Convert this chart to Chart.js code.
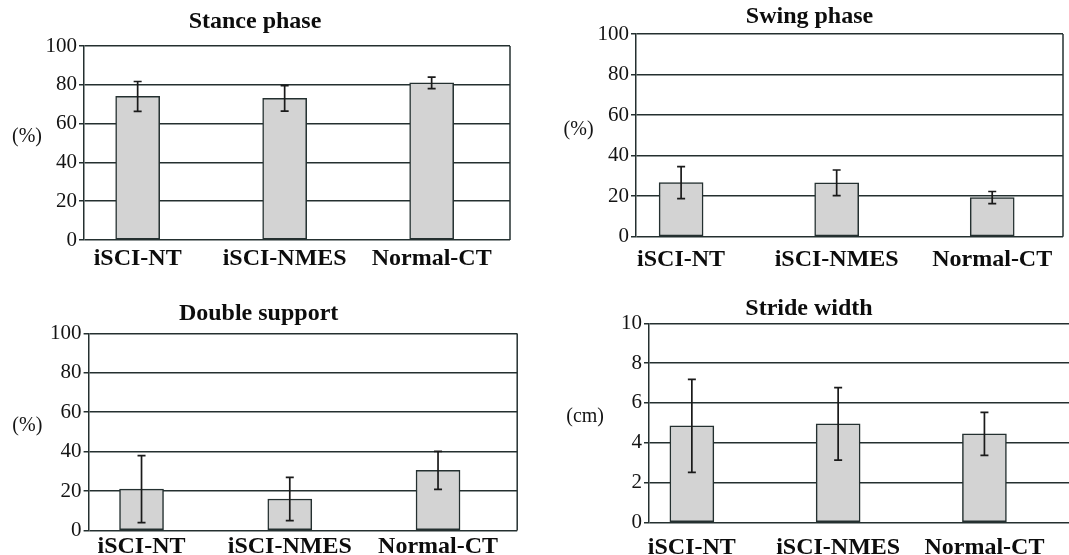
<!DOCTYPE html>
<html>
<head>
<meta charset="utf-8">
<script src="https://cdn.jsdelivr.net/npm/chart.js@4.4.1/dist/chart.umd.min.js"></script>
<style>
  html, body { margin: 0; padding: 0; background: #fff; overflow: hidden; width: 1069px; height: 555px; }
  .panel { position: absolute; }
  .panel canvas { display: block; }
</style>
</head>
<body>
<div class="panel" id="p1" style="left:0px;top:0px;width:520px;height:280px"><canvas id="c1"></canvas></div>
<div class="panel" id="p2" style="left:556px;top:0px;width:512px;height:280px"><canvas id="c2"></canvas></div>
<div class="panel" id="p3" style="left:0px;top:280px;width:520px;height:275px"><canvas id="c3"></canvas></div>
<div class="panel" id="p4" style="left:542px;top:280px;width:534px;height:275px"><canvas id="c4"></canvas></div>
<script>
// Gait parameters per group: mean and standard deviation
const categories = ['iSCI-NT', 'iSCI-NMES', 'Normal-CT'];

const stanceMean = [74, 73, 81];
const stanceSd   = [7.7, 6.6, 3];

const swingMean  = [26.7, 26.6, 19.3];
const swingSd    = [7.9, 6.3, 3];

const doubleMean = [21, 16, 30.5];
const doubleSd   = [17, 11, 9.6];

const strideMean = [4.85, 4.95, 4.45];
const strideSd   = [2.33, 1.82, 1.08];

const percentTicks = [0, 20, 40, 60, 80, 100];
const cmTicks      = [0, 2, 4, 6, 8, 10];

const FONT = "'Liberation Serif', 'Times New Roman', serif";
const LINE = '#243030';
const TEXT = '#141414';
const BAR_FILL = '#d3d3d3';

Chart.defaults.font.family = FONT;

// Layout of each panel (canvas-relative sizes)
const panels = [
  { canvas: 'c1', title: 'Stance phase', mean: stanceMean, sd: stanceSd, ticks: percentTicks, unit: '(%)',
    yWidth: 84, padRight: 10, xHeight: 40, titlePad: { top: 7.6, bottom: 9.6 }, labelPad: 4.4,
    xMin: -0.365, xMax: 2.533, unitGap: 42, frameRight: true },
  { canvas: 'c2', title: 'Swing phase', mean: swingMean, sd: swingSd, ticks: percentTicks, unit: '(%)',
    yWidth: 80, padRight: 5, xHeight: 43.3, titlePad: { top: 2.6, bottom: 2.6 }, labelPad: 8.4,
    xMin: -0.29, xMax: 2.455, unitGap: 42.4, frameRight: true },
  { canvas: 'c3', title: 'Double support', mean: doubleMean, sd: doubleSd, ticks: percentTicks, unit: '(%)',
    yWidth: 88.6, padRight: 2.8, xHeight: 24.5, titlePad: { top: 19.4, bottom: 5.2 }, labelPad: 2.1,
    xMin: -0.357, xMax: 2.534, unitGap: 46.3, frameRight: true },
  { canvas: 'c4', title: 'Stride width', mean: strideMean, sd: strideSd, ticks: cmTicks, unit: '(cm)',
    yWidth: 107, padRight: 0, xHeight: 32.5, titlePad: { top: 14.5, bottom: 0 }, labelPad: 11.1,
    xMin: -0.293, xMax: 2.626, unitGap: 45, frameRight: true }
];

function makeDecorations(cfg) {
  return {
    id: 'decor_' + cfg.canvas,
    afterDatasetsDraw(chart) {
      const { ctx, chartArea, scales } = chart;
      const xs = scales.x, ys = scales.y;
      ctx.save();
      // right edge of the plot frame
      if (cfg.frameRight) {
        ctx.strokeStyle = LINE;
        ctx.lineWidth = 1.5;
        ctx.beginPath();
        ctx.moveTo(chartArea.right, chartArea.top);
        ctx.lineTo(chartArea.right, chartArea.bottom);
        ctx.stroke();
      }
      // error bars (mean ± SD)
      ctx.strokeStyle = '#1a1a1a';
      ctx.lineWidth = 1.7;
      cfg.mean.forEach((m, i) => {
        const x = xs.getPixelForValue(i);
        const yTop = ys.getPixelForValue(m + cfg.sd[i]);
        const yBot = ys.getPixelForValue(m - cfg.sd[i]);
        ctx.beginPath();
        ctx.moveTo(x, yTop); ctx.lineTo(x, yBot);
        ctx.moveTo(x - 4, yTop); ctx.lineTo(x + 4, yTop);
        ctx.moveTo(x - 4, yBot); ctx.lineTo(x + 4, yBot);
        ctx.stroke();
      });
      // unit label beside the value axis
      const top = cfg.ticks[cfg.ticks.length - 1];
      ctx.fillStyle = TEXT;
      ctx.font = '20px ' + FONT;
      ctx.textAlign = 'right';
      ctx.textBaseline = 'middle';
      ctx.fillText(cfg.unit, chartArea.left - cfg.unitGap, ys.getPixelForValue(top * 0.53));
      ctx.restore();
    }
  };
}

panels.forEach(cfg => {
  const top = cfg.ticks[cfg.ticks.length - 1];
  new Chart(document.getElementById(cfg.canvas), {
    type: 'bar',
    data: {
      datasets: [{
        data: categories.map((c, i) => ({ x: i, y: cfg.mean[i] })),
        backgroundColor: BAR_FILL,
        borderColor: LINE,
        borderWidth: 1.5,
        borderSkipped: false,
        barThickness: 44
      }]
    },
    options: {
      responsive: true,
      maintainAspectRatio: false,
      animation: false,
      events: [],
      layout: { padding: { left: 0, right: cfg.padRight, top: 0, bottom: 0 } },
      plugins: {
        legend: { display: false },
        tooltip: { enabled: false },
        title: {
          display: true,
          text: cfg.title,
          color: '#0d0d0d',
          font: { family: FONT, size: 24, weight: 'bold', lineHeight: 1.2 },
          padding: cfg.titlePad
        }
      },
      scales: {
        x: {
          type: 'linear',
          min: cfg.xMin,
          max: cfg.xMax,
          offset: false,
          afterBuildTicks: s => { s.ticks = categories.map((c, i) => ({ value: i })); },
          afterFit: s => { s.height = cfg.xHeight; },
          ticks: {
            callback: (v, idx) => categories[idx],
            font: { family: FONT, size: 24, weight: 'bold' },
            color: '#0d0d0d',
            padding: cfg.labelPad,
            maxRotation: 0,
            autoSkip: false
          },
          grid: { display: false, drawTicks: false, offset: false },
          border: { display: false }
        },
        y: {
          min: 0,
          max: top,
          afterBuildTicks: s => { s.ticks = cfg.ticks.map(v => ({ value: v })); },
          afterFit: s => { s.width = cfg.yWidth; },
          ticks: { font: { family: FONT, size: 21 }, color: TEXT, padding: 2 },
          grid: { color: LINE, lineWidth: 1.5, drawTicks: true, tickLength: 5 },
          border: { display: true, color: LINE, width: 1.5 }
        }
      }
    },
    plugins: [makeDecorations(cfg)]
  });
});
</script>
</body>
</html>
